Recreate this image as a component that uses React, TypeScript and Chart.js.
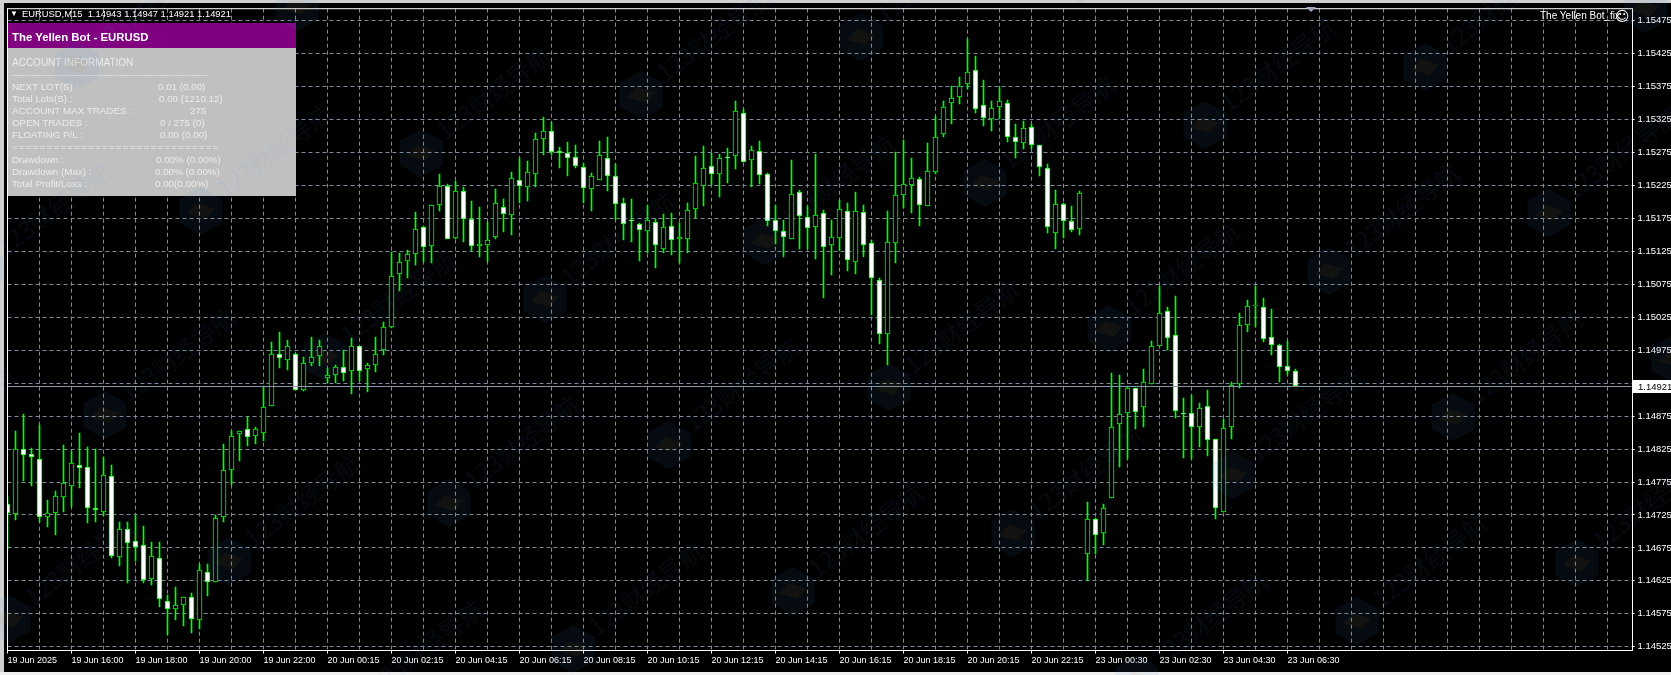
import React, { useEffect, useRef } from "react";
import { Chart, registerables } from "chart.js";

Chart.register(...registerables);

const opens = [
  1.14741,1.14727,1.14825,1.14818,1.14810,1.14722,1.14728,1.14752,1.14769,1.14801,
  1.14798,1.14735,1.14729,1.14784,1.14661,1.14704,1.14685,1.14679,1.14628,1.14660,
  1.14594,1.14583,1.14589,1.14600,1.14565,1.14639,1.14624,1.14722,1.14793,1.14848,
  1.14855,1.14845,1.14849,1.14890,1.14970,1.14960,1.14970,1.14914,1.14956,1.14966,
  1.14933,1.14938,1.14950,1.14943,1.14981,1.14946,1.14952,1.14976,1.15011,1.15091,
  1.15111,1.15121,1.15162,1.15133,1.15195,1.15224,1.15145,1.15217,1.15174,1.15133,
  1.15135,1.15147,1.15192,1.15180,1.15234,1.15223,1.15243,1.15296,1.15308,1.15277,
  1.15274,1.15268,1.15253,1.15220,1.15234,1.15267,1.15240,1.15199,1.15172,1.15167,
  1.15156,1.15170,1.15129,1.15164,1.15144,1.15144,1.15189,1.15224,1.15254,1.15242,
  1.15268,1.15270,1.15335,1.15264,1.15277,1.15242,1.15173,1.15156,1.15144,1.15215,
  1.15177,1.15162,1.15183,1.15134,1.15146,1.15186,1.15109,1.15185,1.15137,1.15082,
  1.15000,1.15138,1.15211,1.15226,1.15235,1.15194,1.15245,1.15303,1.15350,1.15359,
  1.15379,1.15400,1.15347,1.15326,1.15344,1.15350,1.15299,1.15290,1.15314,1.15286,
  1.15251,1.15153,1.15197,1.15171,1.15159,1.14665,1.14719,1.14698,1.14751,1.14863,
  1.14880,1.14917,1.14889,1.14924,1.14981,1.15035,1.14998,1.14880,1.14880,1.14858,
  1.14890,1.14840,1.14730,1.14858,1.14924,1.15013,1.15042,1.15040,1.14995,1.14983,
  1.14951,1.14943,
];
const highs = [
  1.14753,1.14853,1.14878,1.14827,1.14862,1.14747,1.14761,1.14831,1.14822,1.14849,
  1.14828,1.14825,1.14813,1.14801,1.14715,1.14715,1.14725,1.14708,1.14684,1.14684,
  1.14604,1.14616,1.14601,1.14606,1.14650,1.14651,1.14725,1.14833,1.14852,1.14852,
  1.14874,1.14858,1.14920,1.14987,1.15003,1.14991,1.14971,1.14965,1.14995,1.14991,
  1.14948,1.14952,1.14976,1.14994,1.14982,1.14956,1.14995,1.15018,1.15124,1.15123,
  1.15127,1.15185,1.15163,1.15195,1.15242,1.15227,1.15232,1.15223,1.15201,1.15192,
  1.15170,1.15220,1.15204,1.15245,1.15266,1.15262,1.15305,1.15329,1.15321,1.15283,
  1.15291,1.15286,1.15259,1.15244,1.15293,1.15299,1.15258,1.15206,1.15205,1.15168,
  1.15196,1.15174,1.15182,1.15183,1.15168,1.15199,1.15270,1.15285,1.15274,1.15273,
  1.15282,1.15353,1.15341,1.15285,1.15292,1.15244,1.15196,1.15173,1.15264,1.15218,
  1.15194,1.15273,1.15188,1.15173,1.15203,1.15199,1.15215,1.15196,1.15143,1.15085,
  1.15186,1.15276,1.15294,1.15267,1.15238,1.15289,1.15330,1.15353,1.15376,1.15389,
  1.15447,1.15421,1.15385,1.15353,1.15374,1.15355,1.15318,1.15323,1.15319,1.15287,
  1.15257,1.15218,1.15198,1.15194,1.15216,1.14745,1.14720,1.14742,1.14940,1.14937,
  1.14920,1.14918,1.14946,1.14989,1.15073,1.15040,1.15058,1.14902,1.14907,1.14895,
  1.14914,1.14841,1.14871,1.14927,1.15032,1.15051,1.15072,1.15054,1.15037,1.14984,
  1.14989,1.14947,
];
const lows = [
  1.14674,1.14718,1.14776,1.14769,1.14715,1.14707,1.14694,1.14729,1.14737,1.14766,
  1.14713,1.14715,1.14724,1.14660,1.14648,1.14622,1.14655,1.14622,1.14619,1.14586,
  1.14543,1.14565,1.14556,1.14546,1.14552,1.14602,1.14624,1.14715,1.14771,1.14807,
  1.14830,1.14832,1.14837,1.14890,1.14948,1.14945,1.14914,1.14913,1.14951,1.14951,
  1.14926,1.14925,1.14928,1.14909,1.14928,1.14911,1.14942,1.14968,1.15008,1.15065,
  1.15084,1.15105,1.15109,1.15108,1.15187,1.15144,1.15144,1.15139,1.15126,1.15116,
  1.15109,1.15144,1.15155,1.15150,1.15199,1.15201,1.15223,1.15271,1.15272,1.15251,
  1.15240,1.15251,1.15199,1.15187,1.15234,1.15217,1.15173,1.15142,1.15139,1.15110,
  1.15123,1.15100,1.15123,1.15120,1.15108,1.15123,1.15176,1.15194,1.15226,1.15208,
  1.15229,1.15250,1.15261,1.15223,1.15228,1.15164,1.15136,1.15117,1.15144,1.15129,
  1.15129,1.15114,1.15055,1.15089,1.15125,1.15095,1.15090,1.15117,1.15028,1.14984,
  1.14953,1.15108,1.15191,1.15184,1.15164,1.15194,1.15243,1.15299,1.15319,1.15348,
  1.15371,1.15335,1.15316,1.15307,1.15326,1.15291,1.15267,1.15281,1.15280,1.15240,
  1.15153,1.15129,1.15145,1.15155,1.15150,1.14625,1.14666,1.14679,1.14751,1.14798,
  1.14810,1.14855,1.14858,1.14924,1.14981,1.14976,1.14872,1.14811,1.14810,1.14828,
  1.14814,1.14719,1.14730,1.14841,1.14918,1.15003,1.15010,1.14988,1.14967,1.14927,
  1.14937,1.14921,
];
const closes = [
  1.14728,1.14825,1.14816,1.14813,1.14722,1.14728,1.14754,1.14774,1.14804,1.14797,
  1.14736,1.14733,1.14786,1.14663,1.14704,1.14683,1.14676,1.14627,1.14662,1.14598,
  1.14583,1.14589,1.14601,1.14567,1.14641,1.14623,1.14721,1.14793,1.14845,1.14852,
  1.14843,1.14855,1.14889,1.14970,1.14963,1.14982,1.14914,1.14956,1.14964,1.14982,
  1.14937,1.14949,1.14941,1.14982,1.14944,1.14952,1.14969,1.15011,1.15088,1.15109,
  1.15121,1.15159,1.15132,1.15195,1.15224,1.15144,1.15217,1.15174,1.15133,1.15136,
  1.15142,1.15198,1.15182,1.15236,1.15224,1.15246,1.15296,1.15308,1.15276,1.15274,
  1.15267,1.15255,1.15221,1.15240,1.15271,1.15240,1.15197,1.15167,1.15171,1.15158,
  1.15173,1.15134,1.15162,1.15143,1.15147,1.15188,1.15229,1.15251,1.15242,1.15267,
  1.15266,1.15338,1.15261,1.15279,1.15241,1.15171,1.15156,1.15147,1.15212,1.15179,
  1.15161,1.15180,1.15132,1.15147,1.15189,1.15112,1.15186,1.15135,1.15084,1.15000,
  1.15140,1.15211,1.15227,1.15236,1.15195,1.15247,1.15298,1.15344,1.15358,1.15376,
  1.15397,1.15341,1.15327,1.15343,1.15353,1.15299,1.15291,1.15312,1.15286,1.15253,
  1.15162,1.15197,1.15171,1.15157,1.15213,1.14719,1.14695,1.14736,1.14859,1.14878,
  1.14917,1.14881,1.14927,1.14982,1.15032,1.14993,1.14883,1.14878,1.14858,1.14887,
  1.14839,1.14736,1.14857,1.14922,1.15013,1.15042,1.15042,1.14992,1.14983,1.14949,
  1.14943,1.14921,
];

const timeLabels = [
  "19 Jun 2025","19 Jun 16:00","19 Jun 18:00","19 Jun 20:00","19 Jun 22:00","20 Jun 00:15","20 Jun 02:15",
  "20 Jun 04:15","20 Jun 06:15","20 Jun 08:15","20 Jun 10:15","20 Jun 12:15","20 Jun 14:15","20 Jun 16:15",
  "20 Jun 18:15","20 Jun 20:15","20 Jun 22:15","23 Jun 00:30","23 Jun 02:30","23 Jun 04:30","23 Jun 06:30",
];
const priceTicks = [
  1.15475,1.15425,1.15375,1.15325,1.15275,1.15225,1.15175,1.15125,1.15075,1.15025,
  1.14975,1.14925,1.14875,1.14825,1.14775,1.14725,1.14675,1.14625,1.14575,1.14525,
];
const lastPrice = 1.14921;
const chartTitle = "EURUSD,M15  1.14943 1.14947 1.14921 1.14921";
const expertName = "The Yellen Bot_fix";
const panelTitle = "The Yellen Bot - EURUSD";
const panelRows: [string, string, number, number][] = [
  ["NEXT LOT(S) :", "0.01 (0.00)", 158, 87],
  ["Total Lots(S) :", "0.00 (1210.12)", 159, 99],
  ["ACCOUNT MAX TRADES :", "275", 190, 111],
  ["OPEN TRADES :", "0 / 275 (0)", 160, 123],
  ["FLOATING P/L :", "0.00 (0.00)", 160, 135],
  ["Drawdown :", "0.00% (0.00%)", 156, 160],
  ["Drawdown (Max) :", "0.00% (0.00%)", 155, 172],
  ["Total Profit/Loss :", "0.00(0.00%)", 155, 184],
];

const SLOTS = 204;
const GREEN = "#00ff00";
const GRID = "#7d8b9d";
const FONT = '"Liberation Sans", Arial, sans-serif';

const labels = Array.from({ length: SLOTS }, (_, i) => (i % 8 === 0 ? timeLabels[i / 8] ?? "" : ""));

const snapBars = {
  id: "snapBars",
  beforeDatasetsDraw(chart: any) {
    chart.getSortedVisibleDatasetMetas().forEach((meta: any) => {
      meta.data.forEach((el: any) => {
        el.y = Math.round(el.y);
        el.base = Math.round(el.base);
        if (el.y === el.base) el.base = el.y + 1;
      });
    });
  },
};

const frame = {
  id: "frame",
  afterDatasetsDraw(chart: any) {
    const { ctx, chartArea: a, scales } = chart;
    const y = Math.round(scales.y.getPixelForValue(lastPrice)) + 0.5;
    ctx.save();
    ctx.strokeStyle = "#8496a8";
    ctx.lineWidth = 1;
    ctx.beginPath();
    ctx.moveTo(a.left, y);
    ctx.lineTo(a.right, y);
    ctx.stroke();
    ctx.strokeStyle = "#ffffff";
    ctx.strokeRect(a.left, a.top, a.right - a.left + 1, a.bottom - a.top);
    ctx.fillStyle = "#ffffff";
    ctx.fillRect(a.right + 1.5, y - 6.5, 38, 13);
    ctx.fillStyle = "#000000";
    ctx.font = `9.5px ${FONT}`;
    ctx.textAlign = "left";
    ctx.textBaseline = "middle";
    ctx.fillText(lastPrice.toFixed(5), a.right + 6.5, y + 0.5);
    ctx.restore();
  },
};

function Watermarks() {
  const items: React.ReactNode[] = [];
  for (let i = -6; i < 10; i++) {
    for (let j = -3; j < 7; j++) {
      const x = 105 + 220 * i + 124 * j;
      const y = 415 - 58 * i + 146 * j;
      if (x < -150 || x > 1720 || y < -80 || y > 720) continue;
      items.push(
        <React.Fragment key={`${i}_${j}`}>
          <div
            style={{
              position: "absolute",
              left: x - 24,
              top: y - 24,
              width: 48,
              height: 48,
              background: "rgba(70,140,210,0.08)",
              clipPath: "polygon(50% 0,95% 25%,95% 75%,50% 100%,5% 75%,5% 25%)",
            }}
          />
          <div
            style={{
              position: "absolute",
              left: x - 14,
              top: y - 8,
              width: 28,
              height: 16,
              background: "rgba(200,130,40,0.07)",
              clipPath: "polygon(35% 0,100% 35%,65% 100%,0 65%)",
            }}
          />
          <div
            style={{
              position: "absolute",
              left: x + 18,
              top: y - 34,
              fontFamily: '"Noto Sans CJK SC"',
              fontSize: 24,
              lineHeight: "28px",
              whiteSpace: "nowrap",
              color: "rgba(90,160,235,0.07)",
              transform: "rotate(-37deg)",
              transformOrigin: "0 50%",
            }}
          >
            123财经导航
          </div>
        </React.Fragment>
      );
    }
  }
  return <div style={{ position: "absolute", inset: 0, overflow: "hidden", pointerEvents: "none" }}>{items}</div>;
}

const txt = (left: number, top: number, extra: React.CSSProperties = {}): React.CSSProperties => ({
  position: "absolute",
  left,
  top: top - 6,
  lineHeight: "12px",
  whiteSpace: "pre",
  fontFamily: FONT,
  fontSize: 9.8,
  color: "#ececec",
  ...extra,
});

export default function App() {
  const ref = useRef<HTMLCanvasElement>(null);
  useEffect(() => {
    document.body.style.margin = "0";
    document.documentElement.style.overflow = "hidden";
    const chart = new Chart(ref.current!, {
      type: "bar",
      data: {
        labels,
        datasets: [
          {
            label: "body",
            order: 0,
            grouped: false,
            data: opens.map((o, i) => [Math.min(o, closes[i]), Math.max(o, closes[i])]),
            barThickness: 5,
            minBarLength: 1,
            borderWidth: 1,
            borderSkipped: false,
            borderColor: GREEN,
            backgroundColor: opens.map((o, i) => (closes[i] < o ? "#ffffff" : "#000000")),
          },
          {
            label: "wick",
            order: 1,
            grouped: false,
            data: lows.map((l, i) => [l, highs[i]]),
            barThickness: 1,
            borderWidth: 0,
            backgroundColor: GREEN,
          },
        ] as any,
      },
      options: {
        animation: false,
        responsive: false,
        devicePixelRatio: 1,
        layout: { padding: { left: 7.5, top: 6.5, right: 0, bottom: 0 } },
        plugins: { legend: { display: false }, tooltip: { enabled: false } },
        scales: {
          x: {
            type: "category",
            offset: false,
            afterBuildTicks: (s: any) => {
              s.ticks = s.ticks.filter((t: any) => t.value % 4 === 0);
            },
            afterFit: (s: any) => {
              s.height = 24.5;
            },
            border: { display: false, dash: [4, 3] },
            grid: {
              offset: false,
              color: GRID,
              tickLength: 3,
              tickColor: (c: any) => (c.tick && c.tick.value % 8 === 0 && c.tick.value <= 160 ? "#ffffff" : "rgba(0,0,0,0)"),
              tickBorderDash: [],
            },
            ticks: {
              autoSkip: false,
              maxRotation: 0,
              minRotation: 0,
              align: "start",
              padding: 2,
              color: "#ffffff",
              font: { family: FONT, size: 9 },
            },
          },
          y: {
            type: "linear",
            position: "right",
            min: 1.145193,
            max: 1.154933,
            bounds: "data",
            afterBuildTicks: (s: any) => {
              s.ticks = priceTicks.map((value) => ({ value }));
            },
            afterFit: (s: any) => {
              s.width = 39.5;
            },
            border: { display: false, dash: [4, 3] },
            grid: { color: GRID, tickLength: 3, tickColor: "#ffffff", tickBorderDash: [] },
            ticks: {
              padding: 3,
              color: "#ffffff",
              font: { family: FONT, size: 9.5 },
              callback: (v: any) => Number(v).toFixed(5),
            },
          },
        },
      } as any,
      plugins: [snapBars, frame],
    });
    return () => chart.destroy();
  }, []);

  return (
    <div style={{ position: "absolute", left: 0, top: 0, width: 1671, height: 675, background: "#000", overflow: "hidden" }}>
      <canvas ref={ref} width={1671} height={675} style={{ position: "absolute", left: 0, top: 0, display: "block" }} />
      <div style={{ position: "absolute", left: 0, top: 0, width: 4, height: 675, background: "#d0d0d0" }} />
      <div style={{ position: "absolute", left: 0, top: 0, width: 1671, height: 3, background: "#d0d0d0" }} />
      <div style={{ position: "absolute", left: 0, top: 672, width: 1671, height: 3, background: "#f0f0f0" }} />

      <div
        style={{
          position: "absolute",
          left: 1306,
          top: 7,
          width: 0,
          height: 0,
          borderLeft: "5px solid transparent",
          borderRight: "5px solid transparent",
          borderTop: "5px solid #9aa7b6",
        }}
      />
      <div style={txt(10, 14, { fontSize: 8, color: "#fff" })}>▼</div>
      <div style={txt(22, 14, { fontSize: 9.4, color: "#fff" })}>{chartTitle}</div>
      <div style={txt(1540, 16, { color: "#fff", fontSize: 10 })}>{expertName}</div>
      <div style={txt(1615, 16, { color: "#fff", fontSize: 14, fontFamily: '"DejaVu Sans"' })}>☺</div>

      <div style={{ position: "absolute", left: 8, top: 23, width: 288, height: 25, background: "#800080" }} />
      <div style={{ position: "absolute", left: 8, top: 48, width: 288, height: 148, background: "#c0c0c0" }} />
      <div style={txt(12, 37, { fontSize: 11.4, fontWeight: 700, color: "#fff" })}>{panelTitle}</div>
      <div style={txt(12, 63, { fontSize: 10 })}>ACCOUNT INFORMATION</div>
      <div style={txt(12, 75)}>{"-".repeat(60)}</div>
      {panelRows.map(([a, b, x, y]) => (
        <React.Fragment key={a}>
          <div style={txt(12, y)}>{a}</div>
          <div style={txt(x, y)}>{b}</div>
        </React.Fragment>
      ))}
      <div style={txt(12, 147, { letterSpacing: 1.2 })}>{"=".repeat(30)}</div>
      <Watermarks />
    </div>
  );
}
